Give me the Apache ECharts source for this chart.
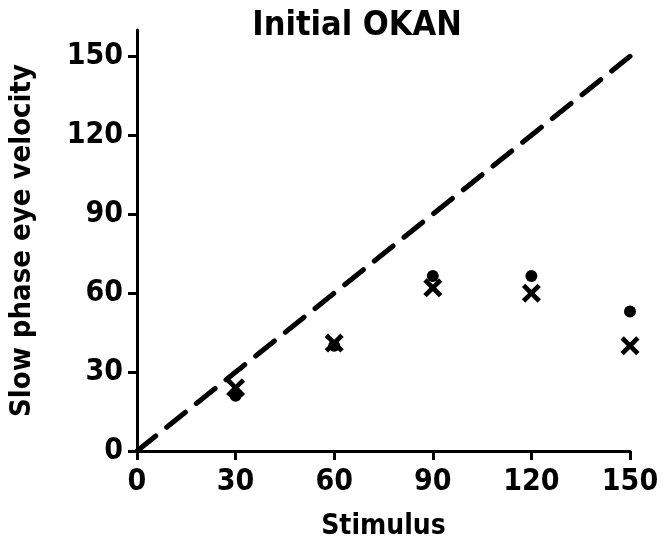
<!DOCTYPE html>
<html><head><meta charset="utf-8">
<script src="https://cdn.jsdelivr.net/npm/echarts@6/dist/echarts.min.js"></script>
<style>html,body{margin:0;padding:0;background:#fff}#c{width:664px;height:546px}</style>
</head><body><div id="c"></div>
<script>
const stimulus = [30, 60, 90, 120, 150];
const dotValues = [21, 40, 66.5, 66.5, 53];
const crossValues = [24, 41, 62, 60, 40];
const unityLine = [[0, 0], [150, 150]];
const tickValues = [0, 30, 60, 90, 120, 150];

const FONT = '"Liberation Sans Narrow", "DejaVu Sans Condensed", "Liberation Sans", sans-serif';
const crossPath = 'path://M0,3.5 L3.5,0 L10,6.5 L16.5,0 L20,3.5 L13.5,10 L20,16.5 L16.5,20 L10,13.5 L3.5,20 L0,16.5 L6.5,10 Z';

const chart = echarts.init(document.getElementById('c'));
chart.setOption({
  backgroundColor: '#fff',
  animation: false,
  title: {
    text: 'Initial OKAN', left: 352, top: 4, textAlign: 'center',
    textStyle: {fontFamily: FONT, fontSize: 34, fontWeight: 'bold', color: '#000'}
  },
  grid: {left: 137, right: 34, top: 30, bottom: 95},
  xAxis: {
    type: 'value', min: 0, max: 150, interval: 30,
    name: 'Stimulus', nameLocation: 'middle', nameGap: 62,
    nameTextStyle: {fontFamily: FONT, fontSize: 28, fontWeight: 'bold', color: '#000'},
    axisLine: {lineStyle: {color: '#000', width: 3}},
    axisTick: {length: 9, lineStyle: {color: '#000', width: 3}},
    axisLabel: {fontFamily: FONT, fontSize: 30, fontWeight: 'bold', color: '#000', margin: 16},
    splitLine: {show: false}
  },
  yAxis: {
    type: 'value', min: 0, max: 160,
    name: 'Slow phase eye velocity', nameLocation: 'middle', nameGap: 100,
    nameTextStyle: {fontFamily: FONT, fontSize: 29, fontWeight: 'bold', color: '#000'},
    axisLine: {show: true, lineStyle: {color: '#000', width: 3}},
    axisTick: {length: 9, customValues: tickValues, lineStyle: {color: '#000', width: 3}},
    axisLabel: {fontFamily: FONT, fontSize: 30, fontWeight: 'bold', color: '#000', margin: 14, customValues: tickValues},
    splitLine: {show: false}
  },
  series: [
    {
      type: 'line', data: unityLine, symbol: 'none',
      lineStyle: {color: '#000', width: 5, type: [24, 14], cap: 'round'}, z: 1
    },
    {
      type: 'scatter', data: stimulus.map((s, i) => [s, dotValues[i]]),
      symbol: 'circle', symbolSize: 12, itemStyle: {color: '#000', opacity: 1}, z: 2
    },
    {
      type: 'scatter', data: stimulus.map((s, i) => [s, crossValues[i]]),
      symbol: crossPath, symbolSize: 19, itemStyle: {color: '#000', opacity: 1}, z: 3
    }
  ]
});
</script></body></html>
